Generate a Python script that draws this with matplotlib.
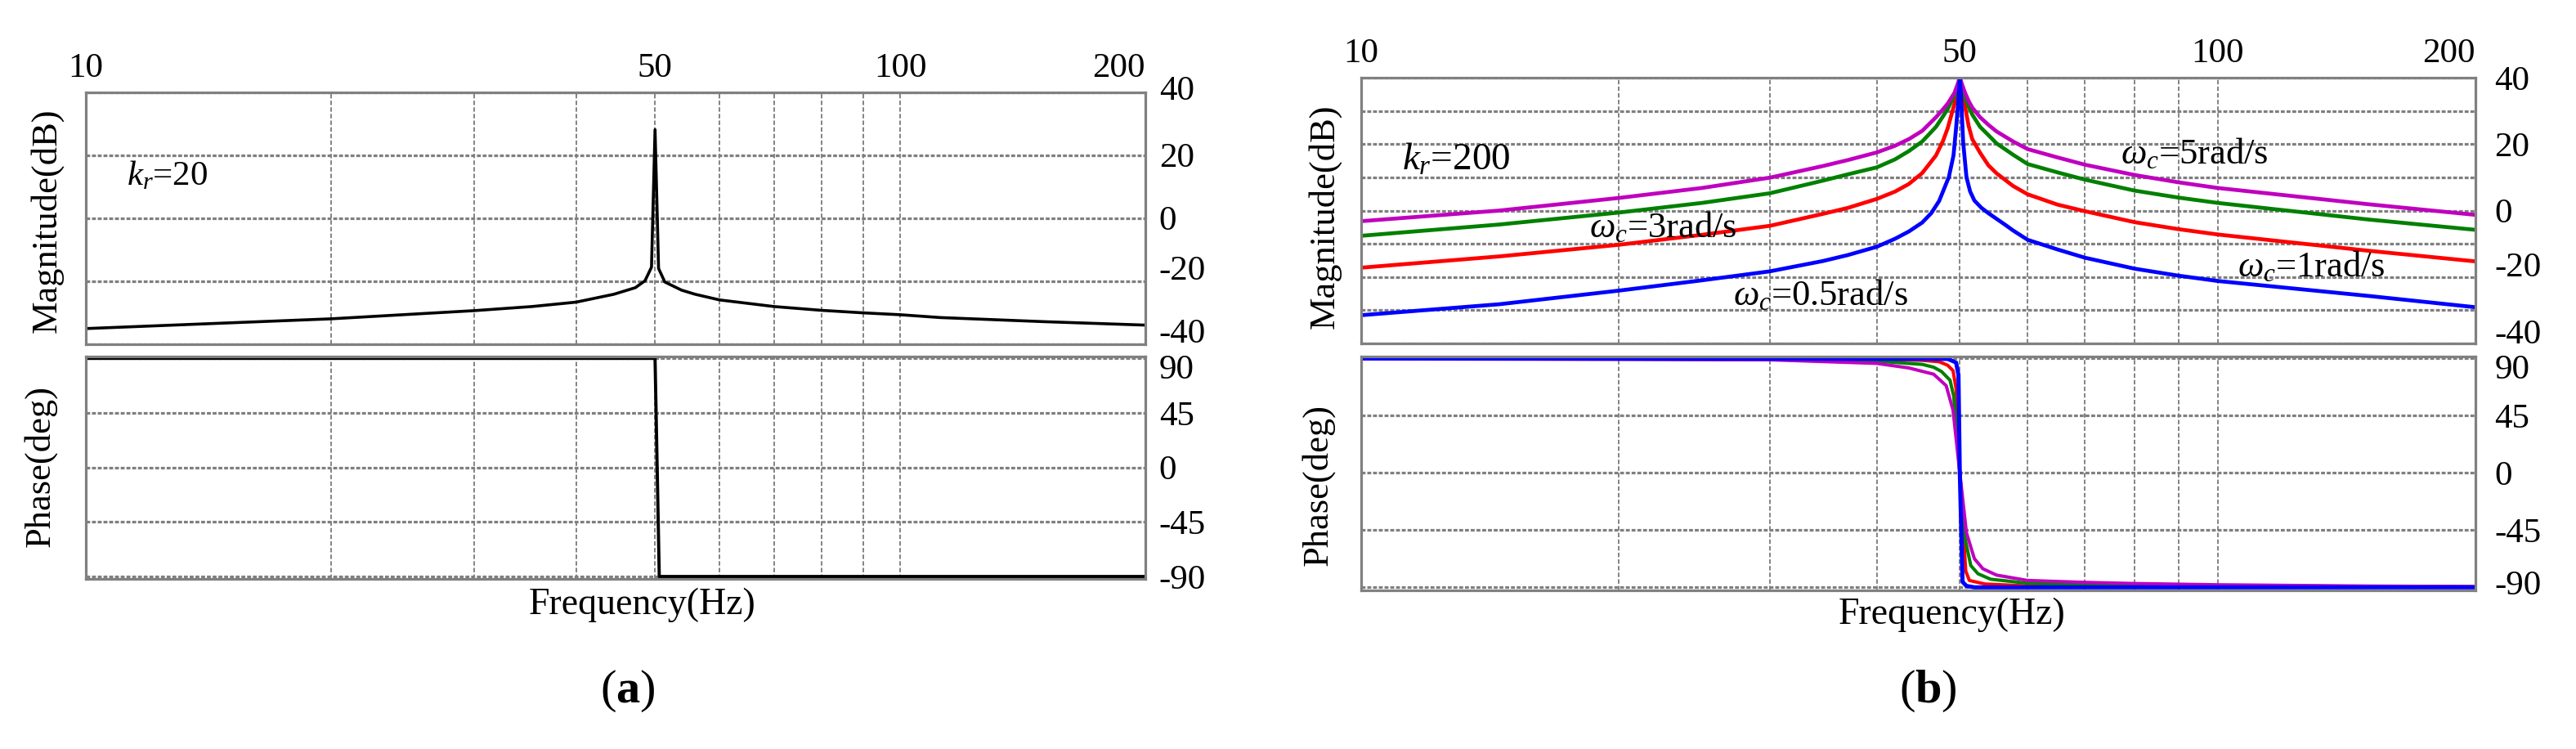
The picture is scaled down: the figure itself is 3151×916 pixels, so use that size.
import numpy as np
import matplotlib
matplotlib.use('Agg')
import matplotlib.pyplot as plt
from matplotlib import transforms as mtransforms
from matplotlib.ticker import NullFormatter

plt.rcParams['font.family'] = ['Liberation Serif', 'DejaVu Serif']
plt.rcParams['mathtext.fontset'] = 'custom'
plt.rcParams['mathtext.rm'] = 'Liberation Serif'
plt.rcParams['mathtext.it'] = 'Liberation Serif:italic'
plt.rcParams['mathtext.bf'] = 'Liberation Serif:bold'
plt.rcParams['axes.unicode_minus'] = False

# ---- (a) kr = 20 ----
fa_mag = [10, 20, 30, 35.3, 40, 44.5, 47.3, 48.6, 49.5, 50, 50.5, 51.4, 53.9, 56,
          60, 70, 80, 90, 100, 112, 150, 200]
a_mag = [-35.1, -32.0, -29.4, -28.1, -26.7, -24.2, -22.1, -19.9, -15.6, 28.1, -16.0,
         -20.3, -22.9, -24.2, -26.0, -28.1, -29.3, -30.1, -30.7, -31.6, -32.9, -34.0]
fa_ph = [10, 50, 50.6, 200]
a_ph = [90, 90, -90, -90]

# ---- (b) kr = 200, four wc values ----
f_grid = [10, 14.5, 20, 25, 30, 34.6, 37, 40, 42, 43.6,
          45.2, 46.9, 47.8, 48.4, 49.3, 49.7, 50, 50.3, 50.7, 51.2,
          51.7, 52.8, 54, 55.2, 57.7, 60, 65, 70, 80, 90,
          100, 150, 200]
mag_wc5 = [-3.2, 0.0, 3.8, 6.8, 9.9, 13.4, 15.2, 17.5, 19.5, 21.5,
           24.0, 28.1, 30.5, 32.2, 35.5, 38.0, 40, 38.0, 35.5, 33.0,
           31.0, 28.1, 25.8, 23.8, 20.8, 18.5, 16.0, 13.8, 10.7, 8.5,
           6.8, 1.9, -1.3]
mag_wc3 = [-7.6, -4.2, -0.6, 2.3, 5.2, 9.0, 10.9, 13.0, 15.4, 17.9,
           20.8, 25.2, 28.4, 30.6, 34.7, 37.5, 40, 37.3, 34.3, 31.3,
           28.9, 25.2, 22.7, 20.2, 16.8, 14.0, 11.5, 9.3, 6.0, 3.9,
           2.3, -2.7, -5.8]
mag_wc1 = [-17.2, -13.8, -10.3, -7.3, -4.6, -1.0, 0.8, 3.5, 5.7, 8.0,
           11.3, 16.6, 21.0, 24.8, 32.2, 36.0, 40, 36.0, 31.4, 25.5,
           21.5, 17.4, 13.6, 11.2, 7.4, 4.9, 1.8, -0.2, -3.5, -5.6,
           -7.2, -12.1, -15.3]
f_blue = [10, 14.5, 20, 25, 30, 34.6, 37, 40, 42, 43.6,
          45.2, 46.3, 47.3, 48.55, 49.16, 49.5, 49.8, 50, 50.2, 50.45,
          50.9, 51.4, 52.0, 53.0, 54.0, 55.2, 56.5, 57.7, 60, 65,
          70, 80, 90, 100, 150, 200]
mag_wc05 = [-31.5, -28.2, -24.1, -21.0, -18.3, -15.2, -13.4, -10.9, -8.5, -6.3,
            -3.6, -0.8, 2.9, 10.1, 16.6, 24.8, 33.0, 40, 33.0, 20.7,
            10.1, 5.8, 3.0, 0.8, -0.8, -2.5, -4.3, -6.0, -8.8, -11.7,
            -14.2, -17.5, -19.6, -21.2, -25.7, -29.1]

fph_wc5 = [10, 20, 30, 40, 43.6, 46.6, 48.2, 49.1, 50, 50.9, 52.0, 53.2, 55.2,
           60, 70, 80, 100, 150, 200]
ph_wc5 = [89.6, 89.3, 88.9, 86.1, 82.5, 77.6, 68.6, 49.3, 0, -47.1, -67.5, -75.4,
          -80.4, -84.6, -86.1, -87.0, -88.0, -89.0, -89.4]
fph_wc3 = [10, 30, 40, 45.2, 46.6, 47.6, 48.7, 49.2, 50, 50.7, 51.5, 52.5, 54.3,
           60, 70, 100, 200]
ph_wc3 = [89.8, 89.3, 87.9, 85.3, 83.1, 79.7, 72.9, 60, 0, -51.4, -72.9, -79.3,
          -83.6, -86.8, -87.9, -88.8, -89.6]
fph_wc1 = [10, 40, 45.2, 47.3, 48.4, 49.1, 49.5, 50, 50.8, 51.3, 53.5, 60, 100, 200]
ph_wc1 = [90, 89.3, 88.5, 87.4, 84.6, 80.4, 66.4, 0, -77.1, -84.6, -87.4, -88.9,
          -89.6, -89.9]
fph_wc05 = [10, 48.4, 49.5, 49.82, 50, 50.37, 50.9, 52, 200]
ph_wc05 = [90, 89.6, 86.8, 77, 0, -85.7, -88.9, -90, -90]

x_major = [10, 50, 100, 200]
x_minor = [20, 30, 40, 60, 70, 80, 90]
mag_ticks = [-40, -20, 0, 20, 40]
ph_ticks = [-90, -45, 0, 45, 90]

W, H = 3151, 916
fig = plt.figure(figsize=(W / 100, H / 100), dpi=100)


def rect(x0, x1, y0, y1):
    # pixel box -> figure fraction
    return [x0 / W, 1 - y1 / H, (x1 - x0) / W, (y1 - y0) / H]


def style(ax, ylim, yticks, yminor, top, ypad):
    ax.set_xscale('log')
    ax.set_xlim(10, 200)
    ax.set_ylim(*ylim)
    ax.set_xticks(x_major, labels=[str(v) for v in x_major])
    ax.set_xticks(x_minor, minor=True)
    ax.xaxis.set_minor_formatter(NullFormatter())
    ax.xaxis.tick_top()
    ax.set_yticks(yticks, labels=[str(v) for v in yticks])
    ax.set_yticks(yminor, minor=True)
    ax.yaxis.tick_right()
    ax.tick_params(which='both', length=0)
    ax.tick_params(axis='x', labelsize=31, pad=7, labeltop=top, labelbottom=False)
    ax.tick_params(axis='y', labelsize=31, pad=ypad)
    ax.set_axisbelow(True)
    ax.grid(axis='x', which='both', color='#7a7a7a', lw=1.3, ls=(0, (3, 1.5)))
    ax.grid(axis='y', which='both', color='#7f7f7f', lw=2.3, ls=(0, (1.5, 0.7)))
    for s in ax.spines.values():
        s.set_color('#808080')
        s.set_linewidth(2.3)
    if top:
        ax.get_xticklabels()[-1].set_ha('right')


def shift_ylabels(ax, values, shifts):
    ticks = ax.yaxis.get_major_ticks(len(values))
    for v, t in zip(values, ticks):
        if v in shifts:
            off = mtransforms.ScaledTranslation(0, shifts[v] / 100, fig.dpi_scale_trans)
            t.label2.set_transform(t.label2.get_transform() + off)


# ---------------- panel (a) ----------------
axm = fig.add_axes(rect(105, 1401, 112.7, 420.7))
axp = fig.add_axes(rect(105, 1401, 436, 708.3))
style(axm, (-40, 40), mag_ticks, [], True, 12)
style(axp, (-92.2, 91.5), ph_ticks, [], False, 12)
axm.plot(fa_mag, a_mag, color='black', lw=2.6)
axp.plot(fa_ph, a_ph, color='black', lw=2.8)
axm.set_ylabel('Magnitude(dB)', fontsize=32, va='center')
axm.yaxis.set_label_position('left')
axm.yaxis.set_label_coords(-0.021, 0.489)
axp.set_ylabel('Phase(deg)', fontsize=32, va='center')
axp.yaxis.set_label_position('left')
axp.yaxis.set_label_coords(-0.027, 0.508)
axp.set_xlabel('Frequency(Hz)', fontsize=33)
axp.xaxis.set_label_coords(0.5255, -0.036)
axm.text(0.0386, 0.63, r'$k_r$=20', transform=axm.transAxes, fontsize=31,
         va='baseline')
shift_ylabels(axm, mag_ticks, {-20: 16, -40: 16, 40: 5})
shift_ylabels(axp, ph_ticks, {90: -10})

# ---------------- panel (b) ----------------
bxm = fig.add_axes(rect(1665, 3028, 95, 420))
bxp = fig.add_axes(rect(1665, 3028, 436, 721.7))
style(bxm, (-40, 40), mag_ticks, [-30, -10, 10, 30], True, 17)
style(bxp, (-92.2, 91.5), ph_ticks, [], False, 17)

bxm.plot(f_grid, mag_wc1, color='r', lw=3.4)
bxm.plot(f_grid, mag_wc3, color='g', lw=3.4)
bxm.plot(f_grid, mag_wc5, color='m', lw=3.4)
bxm.plot(f_blue, mag_wc05, color='b', lw=3.4)

bxp.plot(fph_wc1, ph_wc1, color='r', lw=2.9)
bxp.plot(fph_wc3, ph_wc3, color='g', lw=2.9)
bxp.plot(fph_wc5, ph_wc5, color='m', lw=2.9)
bxp.plot(fph_wc05, ph_wc05, color='b', lw=3.6)

bxm.set_ylabel('Magnitude(dB)', fontsize=32, va='center')
bxm.yaxis.set_label_position('left')
bxm.yaxis.set_label_coords(-0.018, 0.477)
bxp.set_ylabel('Phase(deg)', fontsize=32, va='center')
bxp.yaxis.set_label_position('left')
bxp.yaxis.set_label_coords(-0.024, 0.45)
bxp.set_xlabel('Frequency(Hz)', fontsize=33)
bxp.xaxis.set_label_coords(0.530, -0.03)

notes = [
    (0.0367, 0.652, r'$k_r$=200', 34),
    (0.2047, 0.400, r'$\omega_c$=3rad/s', 32),
    (0.3338, 0.145, r'$\omega_c$=0.5rad/s', 32),
    (0.6816, 0.677, r'$\omega_c$=5rad/s', 32),
    (0.7865, 0.252, r'$\omega_c$=1rad/s', 32),
]
for x, y, s, fs in notes:
    bxm.text(x, y, s, transform=bxm.transAxes, fontsize=fs, va='baseline')
shift_ylabels(bxm, mag_ticks, {-20: 16, -40: 15})
shift_ylabels(bxp, ph_ticks, {90: -10, -90: 6})

fig.text(768 / W, 1 - 845 / H, r'($\mathbf{a}$)', fontsize=42, ha='center', va='center')
fig.text(2358 / W, 1 - 845 / H, r'($\mathbf{b}$)', fontsize=42, ha='center', va='center')

fig.savefig('out.png', dpi=100)
